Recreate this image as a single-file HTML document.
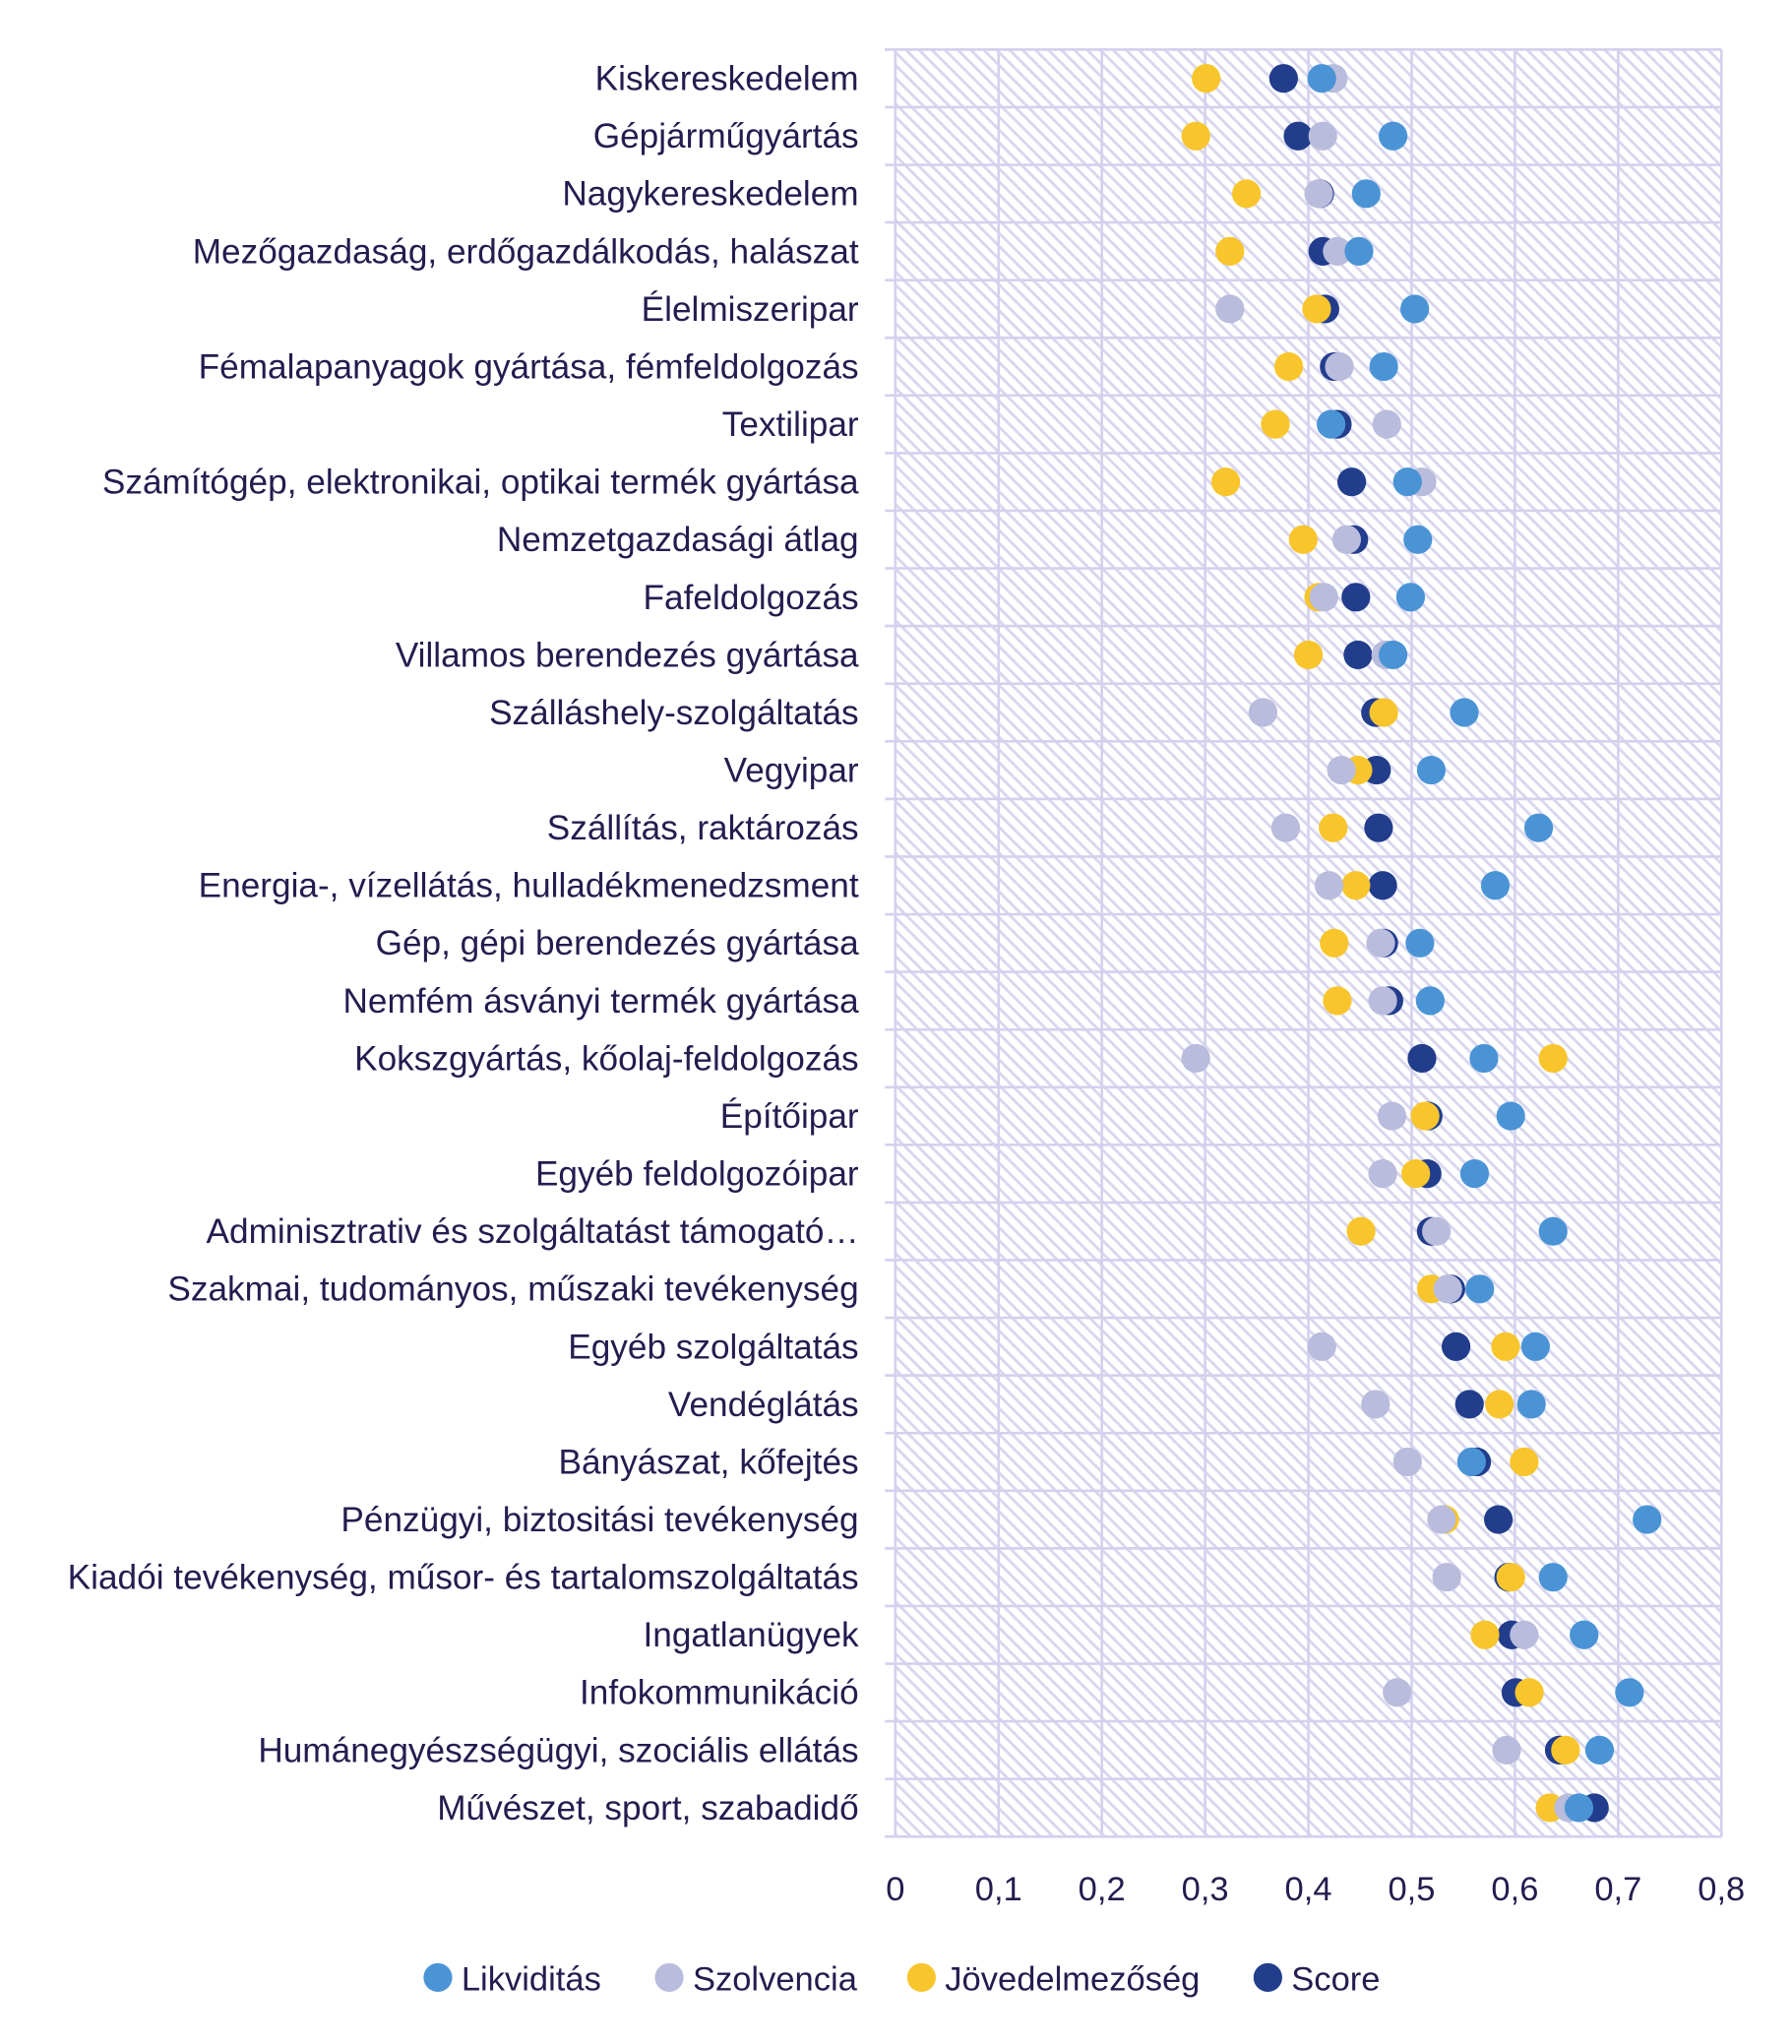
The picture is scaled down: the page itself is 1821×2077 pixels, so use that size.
<!DOCTYPE html>
<html><head><meta charset="utf-8"><style>
html,body{margin:0;padding:0;background:#fff;}
svg{display:block;}
text{font-family:"Liberation Sans",sans-serif;fill:#231d4f;}
</style></head><body>
<svg id="chart" width="1821" height="2077" viewBox="0 0 1371 1567" preserveAspectRatio="none" xmlns="http://www.w3.org/2000/svg">
<defs>
<pattern id="hatch" width="7" height="7" patternUnits="userSpaceOnUse" patternTransform="rotate(-45)">
<rect width="7" height="7" fill="#ffffff"/>
<rect width="2.2" height="7" fill="#d9d7ee"/>
</pattern>
</defs>
<g id="plot"></g>
<g id="legend"></g>
</svg>
<script>
const categories = ["Kiskereskedelem","Gépjárműgyártás","Nagykereskedelem","Mezőgazdaság, erdőgazdálkodás, halászat","Élelmiszeripar","Fémalapanyagok gyártása, fémfeldolgozás","Textilipar","Számítógép, elektronikai, optikai termék gyártása","Nemzetgazdasági átlag","Fafeldolgozás","Villamos berendezés gyártása","Szálláshely-szolgáltatás","Vegyipar","Szállítás, raktározás","Energia-, vízellátás, hulladékmenedzsment","Gép, gépi berendezés gyártása","Nemfém ásványi termék gyártása","Kokszgyártás, kőolaj-feldolgozás","Építőipar","Egyéb feldolgozóipar","Adminisztrativ és szolgáltatást támogató…","Szakmai, tudományos, műszaki tevékenység","Egyéb szolgáltatás","Vendéglátás","Bányászat, kőfejtés","Pénzügyi, biztositási tevékenység","Kiadói tevékenység, műsor- és tartalomszolgáltatás","Ingatlanügyek","Infokommunikáció","Humánegyészségügyi, szociális ellátás","Művészet, sport, szabadidő"];
const likviditas = [0.413,0.482,0.456,0.449,0.503,0.473,0.422,0.496,0.506,0.499,0.482,0.551,0.519,0.623,0.581,0.508,0.518,0.570,0.596,0.561,0.637,0.566,0.620,0.616,0.558,0.728,0.637,0.667,0.711,0.682,0.662];
const szolvencia = [0.424,0.414,0.410,0.428,0.324,0.430,0.476,0.510,0.437,0.415,0.475,0.356,0.432,0.378,0.420,0.470,0.472,0.291,0.481,0.472,0.524,0.535,0.413,0.465,0.496,0.529,0.534,0.609,0.486,0.592,0.652];
const jovedelmezoseg = [0.301,0.291,0.340,0.324,0.408,0.381,0.368,0.320,0.395,0.410,0.400,0.473,0.448,0.424,0.446,0.425,0.428,0.637,0.513,0.504,0.451,0.519,0.591,0.585,0.609,0.532,0.596,0.571,0.614,0.649,0.634];
const score = [0.376,0.390,0.411,0.414,0.416,0.425,0.428,0.442,0.444,0.446,0.448,0.465,0.466,0.468,0.472,0.473,0.478,0.510,0.516,0.515,0.519,0.538,0.543,0.556,0.563,0.584,0.594,0.597,0.601,0.643,0.677];
const xTicks = ["0","0,1","0,2","0,3","0,4","0,5","0,6","0,7","0,8"];
const seriesNames = ["Likviditás","Szolvencia","Jövedelmezőség","Score"];

const NS="http://www.w3.org/2000/svg";
const X0=685, X1=1317, Y0=38, Y1=1408, XMAX=0.8;
const rowH=(Y1-Y0)/categories.length;
const xs=v=>X0+(X1-X0)*v/XMAX;
const ys=i=>Y0+rowH*(i+0.5);
const plot=document.getElementById('plot');
const legend=document.getElementById('legend');
function mk(tag,attrs,parent){const e=document.createElementNS(NS,tag);for(const k in attrs)e.setAttribute(k,attrs[k]);parent.appendChild(e);return e;}

const bg=mk('rect',{x:X0,y:Y0,width:X1-X0,height:Y1-Y0,fill:'url(#hatch)'},plot);


const gridC='#d4d1ee';
xTicks.forEach((t,i)=>{
  const x=xs(i*0.1);
  const l=mk('line',{x1:x,x2:x,y1:Y0,y2:Y1,stroke:gridC,'stroke-width':2},plot);
  
  
  const tx=mk('text',{x:x,y:1457,'font-size':26,'text-anchor':'middle'},plot);
  tx.textContent=t;
  
  
});
for(let i=0;i<=categories.length;i++){
  const y=Y0+rowH*i;
  const l=mk('line',{x1:X0-8,x2:X1,y1:y,y2:y,stroke:gridC,'stroke-width':2},plot);
  
  
}
categories.forEach((c,i)=>{
  const tx=mk('text',{x:657,y:ys(i)+9,'font-size':26.5,'text-anchor':'end'},plot);
  tx.textContent=c;
  
  
});
const colors={"Likviditás":"#4a94d6","Szolvencia":"#b9bcdc","Jövedelmezőség":"#f8c52c","Score":"#223d8c"};
const data={"Likviditás":likviditas,"Szolvencia":szolvencia,"Jövedelmezőség":jovedelmezoseg,"Score":score};
["Score","Jövedelmezőség","Szolvencia","Likviditás"].forEach(s=>{
  data[s].forEach((v,i)=>{
    const d=mk('ellipse',{cx:xs(v),cy:ys(i),rx:11,ry:11,fill:colors[s]},plot);
    
    
  });
});
const legX=[335,512,705,970];
seriesNames.forEach((s,i)=>{
  const d=mk('circle',{cx:legX[i],cy:1516,r:11,fill:colors[s]},legend);
  
  
  const t=mk('text',{x:legX[i]+18,y:1526,'font-size':26},legend);
  t.textContent=s;
  
  
});
</script>
</body></html>
